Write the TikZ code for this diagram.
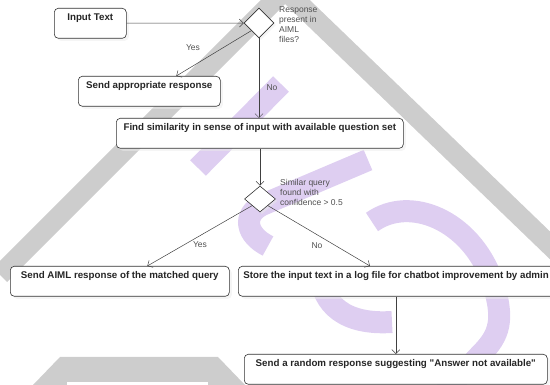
\documentclass[tikz,border=0pt]{standalone}
\usepackage{fontspec}
\setmainfont{Liberation Sans}[Ligatures=TeXOff]
\usetikzlibrary{shapes.geometric,arrows.meta,shadows,calc}
\definecolor{wmgray}{RGB}{205,205,205}
\definecolor{wmpurple}{RGB}{222,206,241}
\definecolor{lblgray}{RGB}{80,80,80}

\begin{document}
\begin{tikzpicture}[x=1pt,y=-1pt]
    \tikzset{actbox/.style = {draw=black!80, fill=white, rounded corners=4pt, line width=0.6pt,
        font=\fontsize{9.75}{11}\selectfont\bfseries, text=black!85, anchor=north west,
        inner xsep=0pt, inner ysep=4pt, minimum height=30pt, text height=8.5pt, text depth=13.5pt,
        drop shadow={shadow xshift=2.5pt, shadow yshift=-2.5pt, fill=black!8}}}
    \tikzset{decision/.style = {diamond, draw=black!80, fill=white, line width=0.6pt, inner sep=0pt,
        minimum width=30pt, minimum height=30pt,
        drop shadow={shadow xshift=2pt, shadow yshift=-2pt, fill=black!8}}}
    \tikzset{flow/.style = {draw=black!75, line width=0.5pt, -{Straight Barb[length=4pt,width=8pt]}}}
    \tikzset{lbl/.style = {font=\fontsize{8.5}{10.3}\selectfont, text=lblgray, inner sep=0pt}}
    \useasboundingbox (0,0) rectangle (550,385);
    \clip (0,0) rectangle (550,385);
    % watermark
    \draw[wmgray, line width=20pt, line join=miter] (0,275) -- (285,-10) -- (560,255);
    \fill[wmgray] (33,385) -- (60,357) -- (218,357) -- (245,385) -- cycle;
    \fill[white] (67,382) rectangle (208,386);
    \draw[wmpurple, line width=22pt] (281,84) -- (198,168);
    \draw[wmpurple, line width=22pt] (368,160) -- (262,205) .. controls (242,215) and (246,235) .. (268,246);
    \draw[wmpurple, line width=22pt] (372,222) .. controls (410,195) and (470,220) .. (492,280)
        .. controls (505,320) and (500,335) .. (480,355) -- (445,392);
    \draw[wmpurple, line width=22pt] (320,272) .. controls (322,305) and (345,325) .. (392,322);
    % flow
    \node[actbox, minimum width=72pt] (intext) at (54,8) {Input Text};
    \node[decision] (q1) at (259,23) {};
    \node[actbox, minimum width=142pt] (sendresp) at (78,76) {Send appropriate response};
    \node[actbox, minimum width=287pt] (find) at (116,118) {Find similarity in sense of input with available question set};
    \node[decision, minimum width=31pt, minimum height=26pt] (q2) at (260,199) {};
    \node[actbox, minimum width=219pt] (sendaiml) at (10,266) {Send AIML response of the matched query};
    \node[actbox, inner xsep=5pt] (store) at (238,266) {Store the input text in a log file for chatbot improvement by admin};
    \node[actbox, minimum width=303pt] (random) at (244,354) {Send a random response suggesting "Answer not available"};
    \node[lbl, anchor=north west, align=left] (q1txt) at (279,6) {Response\\present in\\AIML\\files?};
    \node[lbl, anchor=north west, align=left] (q2txt) at (280,179) {Similar query\\found with\\confidence > 0.5};
    \node[lbl] (yes1) at (193,48) {Yes};
    \node[lbl] (no1) at (272,88) {No};
    \node[lbl] (yes2) at (200,245) {Yes};
    \node[lbl] (no2) at (317,246) {No};
    \draw[flow] (intext) -- (q1);
    \draw[flow] (q1.south west) -- ($(sendresp.north)+(27,0)$);
    \draw[flow] (q1.south) -- (q1.south |- find.north);
    \draw[flow] (find.south -| q2.north) -- (q2.north);
    \draw[flow] (q2.south west) -- ($(sendaiml.north)+(27.5,0)$);
    \draw[flow] (q2.south east) -- ($(store.north west)+(132,0)$);
    \draw[flow] (store.south -| random.north) -- (random.north);
\end{tikzpicture}
\end{document}
